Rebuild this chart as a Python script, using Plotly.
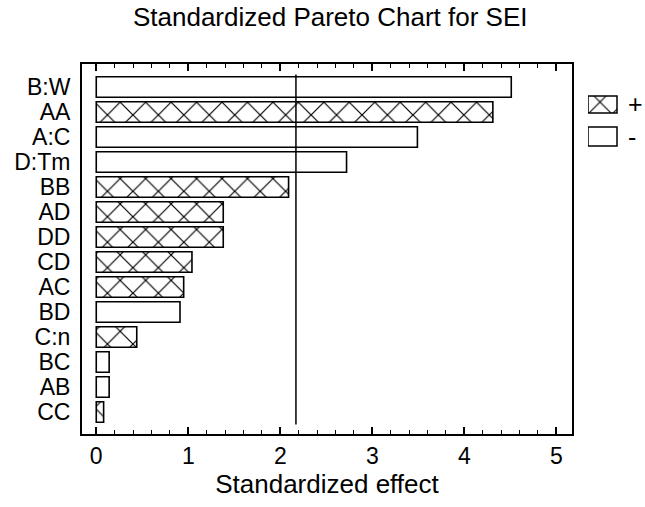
import plotly.graph_objects as go

factors = ["B:W", "AA", "A:C", "D:Tm", "BB", "AD", "DD", "CD", "AC", "BD", "C:n", "BC", "AB", "CC"]
effects = [4.51, 4.31, 3.49, 2.72, 2.09, 1.38, 1.38, 1.04, 0.95, 0.91, 0.44, 0.14, 0.14, 0.08]
signs = ["-", "+", "-", "-", "+", "+", "+", "+", "+", "-", "+", "-", "-", "+"]
critical = 2.17
legend_labels = ["+", "-"]

font = "Liberation Sans, Arial, sans-serif"
W, H = 645, 507
L, T, B = 82, 64, 73
plot_w = W - L
plot_h = H - T - B
x_dom = 490 / plot_w

fig = go.Figure()
for sgn in legend_labels:
    ys = [f for f, s in zip(factors, signs) if s == sgn]
    xs = [e for e, s in zip(effects, signs) if s == sgn]
    fig.add_trace(go.Bar(
        x=xs, y=ys, orientation="h", name=sgn, width=0.82, showlegend=False,
        marker=dict(color="white", line=dict(color="black", width=1.6),
                    pattern=dict(shape="x" if sgn == "+" else "", fgcolor="black",
                                 bgcolor="white", size=18, solidity=0.13,
                                 fgopacity=1, fillmode="replace")),
    ))

fig.add_shape(type="line", x0=critical, x1=critical, y0=-0.5, y1=13.5,
              line=dict(color="black", width=1.5))

# custom legend swatches (pixel-unit legend axes)
leg_box = [(0, 29, 6, 23), (0, 29, 37, 56)]
for (x0, x1, y0, y1), lab in zip(leg_box, legend_labels):
    fig.add_trace(go.Scatter(
        x=[x0, x1, x1, x0, x0], y=[y0, y0, y1, y1, y0], mode="lines", fill="toself",
        fillcolor="white", line=dict(color="black", width=1.5), showlegend=False,
        hoverinfo="skip", xaxis="x2", yaxis="y2",
        fillpattern=dict(shape="x" if lab == "+" else "", fgcolor="black",
                         bgcolor="white", size=17, solidity=0.13,
                         fgopacity=1, fillmode="replace"),
    ))
    fig.add_annotation(x=x1 + 9, y=(y0 + y1) / 2, xref="x2", yref="y2", text=lab,
                       showarrow=False, xanchor="left", yanchor="middle",
                       font=dict(size=25, family=font, color="black"))

fig.update_layout(
    width=W, height=H, plot_bgcolor="white", paper_bgcolor="white",
    margin=dict(l=L, r=0, t=T, b=B),
    font=dict(family=font, color="black", size=22),
    title=dict(text="Standardized Pareto Chart for SEI", x=0.512, xanchor="center",
               y=1 - 17 / H, yanchor="middle", font=dict(size=26)),
    barmode="overlay", showlegend=False,
    xaxis=dict(
        domain=[0, x_dom], range=[-0.155, 5.17], tickvals=[0, 1, 2, 3, 4, 5],
        ticks="inside", ticklen=7, tickcolor="black", tickwidth=1.5, showline=True,
        linecolor="black", linewidth=2, mirror="allticks", showgrid=False, zeroline=False,
        minor=dict(dtick=0.2, ticks="inside", ticklen=4, tickcolor="black", tickwidth=1.2,
                   showgrid=False),
        title=dict(text="Standardized effect", font=dict(size=26), standoff=6),
        tickfont=dict(size=23)),
    yaxis=dict(
        type="category", categoryorder="array", categoryarray=factors[::-1],
        tickmode="array", tickvals=factors, ticktext=factors,
        range=[-0.88, 13.92], showline=True, linecolor="black", linewidth=2,
        mirror=True, ticks="", showgrid=False, tickfont=dict(size=23), ticklabelstandoff=5),
    xaxis2=dict(domain=[(588 - L) / plot_w, 1], range=[0, W - 588], visible=False,
                fixedrange=True, anchor="y2"),
    yaxis2=dict(domain=[(434 - 150) / plot_h, (434 - 90) / plot_h], range=[60, 0],
                visible=False, fixedrange=True, anchor="x2"),
)

fig.write_html("out.html")
